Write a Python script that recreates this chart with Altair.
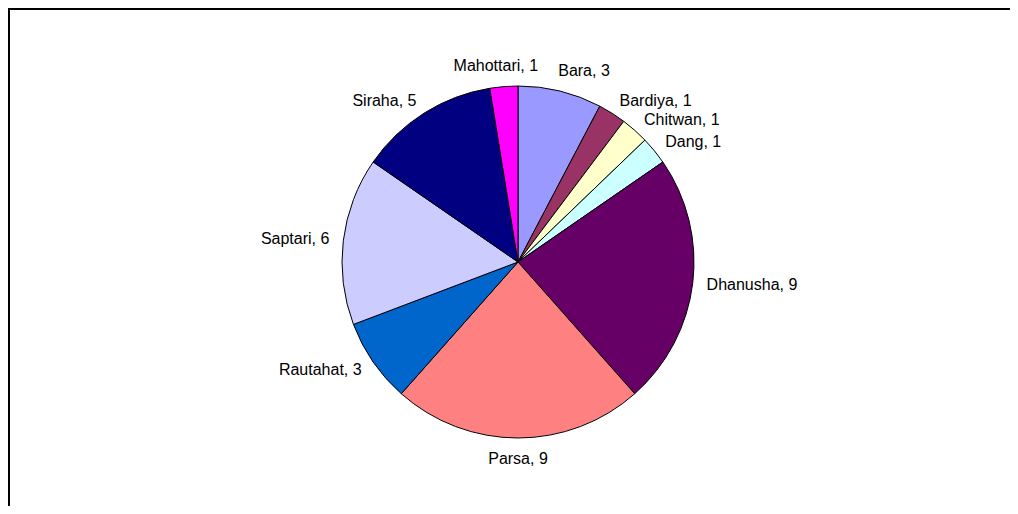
import altair as alt
import pandas as pd

districts = ["Bara", "Bardiya", "Chitwan", "Dang", "Dhanusha", "Parsa",
             "Rautahat", "Saptari", "Siraha", "Mahottari"]
counts = [3, 1, 1, 1, 9, 9, 3, 6, 5, 1]
colors = ["#9999FF", "#993366", "#FFFFCC", "#CCFFFF", "#660066", "#FF8080",
          "#0066CC", "#CCCCFF", "#000080", "#FF00FF"]

df = pd.DataFrame({"district": districts, "count": counts,
                   "idx": list(range(len(districts)))})

CX, CY, R = 508, 252, 176
LR, LRC = 190, 197
FONT = "Liberation Sans"
FS = 16

base = alt.Chart(df)

pie = base.mark_arc(outerRadius=R, stroke="black", strokeWidth=1).encode(
    theta=alt.Theta("count:Q", stack=True),
    color=alt.Color("district:N", scale=alt.Scale(domain=districts, range=colors), legend=None),
    order=alt.Order("idx:Q"),
    x=alt.value(CX),
    y=alt.value(CY),
)

lab = base.transform_window(
    cum="sum(count)", sort=[alt.SortField("idx")], frame=[None, 0]
).transform_joinaggregate(
    total="sum(count)"
).transform_calculate(
    ang="2*PI*(datum.cum - datum.count/2)/datum.total",
    label="datum.district + ', ' + datum.count",
).transform_calculate(
    s="sin(datum.ang)", c="cos(datum.ang)"
)

def text_layer(cond, align, rx, ry):
    return lab.transform_filter(cond).transform_calculate(
        lx=f"{CX} + {rx}*datum.s", ly=f"{CY} - {ry}*datum.c"
    ).mark_text(align=align, baseline="middle", font=FONT, fontSize=FS, color="black").encode(
        x=alt.X("lx:Q", scale=None),
        y=alt.Y("ly:Q", scale=None),
        text="label:N",
    )

right = text_layer("datum.s > 0.45", "left", LR, LR)
left = text_layer("datum.s < -0.45", "right", LR, LR)
center = text_layer("abs(datum.s) <= 0.45", "center", 1.4 * LRC, LRC)

one = pd.DataFrame({"a": [0]})
vline = alt.Chart(one).mark_rule(color="black", strokeWidth=2).encode(
    x=alt.value(-1), y=alt.value(-2), y2=alt.value(496))
hline = alt.Chart(one).mark_rule(color="black", strokeWidth=2).encode(
    x=alt.value(-2), x2=alt.value(1000), y=alt.value(-1))

chart = alt.layer(pie, right, left, center, vline, hline).properties(
    width=1000, height=496,
    autosize=alt.AutoSizeParams(type="none"),
    padding={"left": 2, "top": 2, "right": 0, "bottom": 0},
).configure_view(stroke=None)

chart.save("out.html", embed_options={"renderer": "svg", "actions": False})
